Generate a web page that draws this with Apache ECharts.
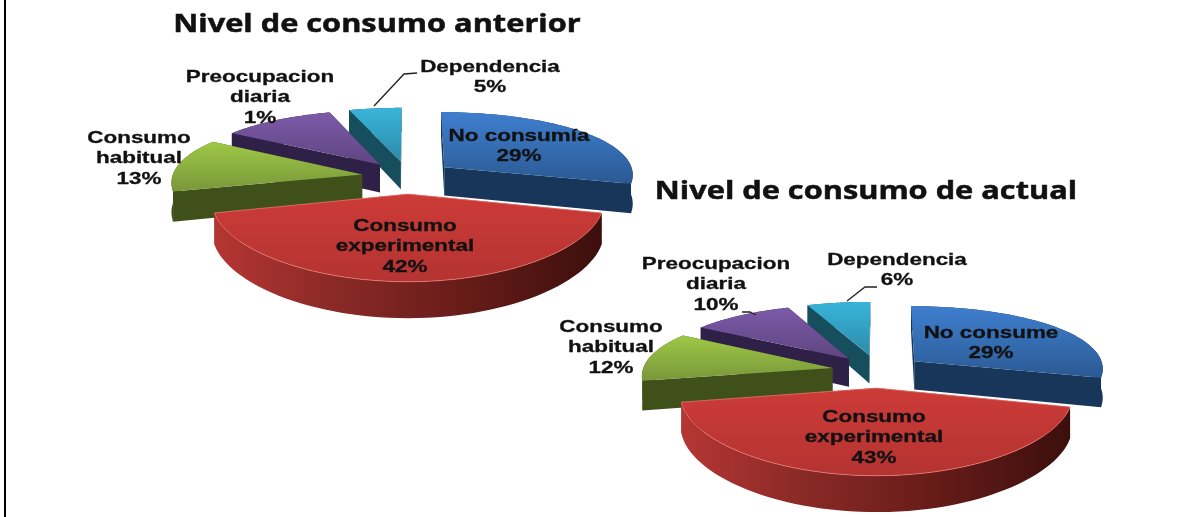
<!DOCTYPE html>
<html><head><meta charset="utf-8">
<style>html,body{margin:0;padding:0;background:#fff}#c{width:1183px;height:517px}#c canvas{filter:blur(0.5px)}</style>
<script src="https://cdn.jsdelivr.net/npm/echarts@6/dist/echarts.min.js"></script>
</head><body><div id="c"></div>
<script>
// ---- data ----
const prevCategories = ['No consumía', 'Consumo\nexperimental', 'Consumo\nhabitual', 'Preocupacion\ndiaria', 'Dependencia'];
const currCategories = ['No consume', 'Consumo\nexperimental', 'Consumo\nhabitual', 'Preocupacion\ndiaria', 'Dependencia'];
// slice sizes as drawn
const prevValues = [29, 42, 13, 11, 5];
const currValues = [29, 43, 12, 10, 6];
// percentages as printed on the labels
const prevPrinted = [29, 42, 13, 1, 5];
const currPrinted = [29, 43, 12, 10, 6];
const prevTitle = 'Nivel de consumo anterior';
const currTitle = 'Nivel de consumo de actual';

// ---- look ----
const G = echarts.graphic.LinearGradient;
const v = (a, b) => new G(0, 0, 0, 1, [{offset: 0, color: a}, {offset: 1, color: b}]);
const sliceStyles = [
  {top: v('#3f7fcf', '#2b5a94'), side: '#17365a'},
  {top: v('#cc3b38', '#b43331'), side: '#5a1a17'},
  {top: v('#9fc846', '#78973a'), side: '#40501a'},
  {top: v('#7c5aa8', '#5f4581'), side: '#2f2048'},
  {top: v('#38b5da', '#2d8aa9'), side: '#164e5e'}
];
const redWall = new G(0, 0, 1, 0, [
  {offset: 0, color: '#b53633'}, {offset: 0.3, color: '#8b2a27'},
  {offset: 0.62, color: '#6a1d1a'}, {offset: 1, color: '#3c0f0c'}]);
const paintRank = [3, 4, 2, 1, 0];
const R = 190, RY = 67, EXPLODE = 0.245, DEPTH = 29, KX = 0.1, KY = 0.1635;
const prevLayout = {cx: 408, cy: 177,
  labels: [[519, 136], [405, 226], [139, 138], [260, 77], [490, 67]],
  leaders: [[[374, 106], [404, 74], [417, 73]]]};
const currLayout = {cx: 878, cy: 371,
  labels: [[991, 333], [874, 417], [611, 327], [716, 264], [897, 260]],
  leaders: [[[847, 301], [865, 287], [877, 287]], [[742, 312], [750, 312], [756, 315]]]};
const LINE = 20.5, FONT = 17, STRETCH = 1.32;

function project(L, thetaDeg, rad, midDeg, down) {
  const t = thetaDeg * Math.PI / 180, m = midDeg * Math.PI / 180;
  const U = rad * Math.sin(t) + EXPLODE * Math.sin(m);
  const W = -rad * Math.cos(t) - EXPLODE * Math.cos(m);
  return [L.cx + R * U / (1 - KX * W), L.cy + (RY * W + DEPTH * down) / (1 - KY * W)];
}

function makeRender(values, categories, printed, L) {
  const total = values.reduce((a, b) => a + b, 0);
  return function (params, api) {
    const i = params.dataIndex, val = api.value(0);
    let before = 0;
    for (let k = 0; k < i; k++) before += values[k];
    const a0 = before / total * 360, a1 = (before + val) / total * 360, mid = (a0 + a1) / 2;
    const arc = (down) => {
      const p = [];
      for (let s = 0; s <= 60; s++) p.push(project(L, a0 + (a1 - a0) * s / 60, 1, mid, down));
      return p;
    };
    const top = arc(0), low = arc(1);
    const A = project(L, 0, 0, mid, 0), B = project(L, 0, 0, mid, 1);
    const st = sliceStyles[i], z = paintRank[i] * 10;
    const poly = (pts, fill, dz, extra) => ({type: 'polygon', z2: z + dz, silent: true,
      shape: {points: pts}, style: Object.assign({fill: fill}, extra || {})});
    const wallFill = i === 1 ? redWall : st.side;
    const children = [
      poly(top.concat(low.slice().reverse()), wallFill, 1),
      poly([A, top[0], low[0], B], st.side, 0),
      poly([A, top[60], low[60], B], st.side, 0),
      poly([A].concat(top), st.top, 2, i === 1 ? {stroke: 'rgba(240,130,120,0.7)', lineWidth: 1} : {})
    ];
    const lines = [...categories[i].split('\n'), printed[i] + '%'];
    lines.forEach((line, n) => children.push({type: 'text', z2: 100, silent: true,
      x: L.labels[i][0], y: L.labels[i][1] + n * LINE, scaleX: STRETCH,
      style: {text: line, textAlign: 'center', textVerticalAlign: 'middle',
        font: 'bold ' + FONT + 'px "Liberation Sans", Arial, sans-serif', fill: '#111',
        stroke: '#111', lineWidth: 0.3}}));
    return {type: 'group', children};
  };
}

function pieSeries(values, categories, printed, L) {
  return {type: 'custom', coordinateSystem: 'none', animation: false, silent: true,
    data: values.map((x, i) => ({name: categories[i], value: [x]})),
    renderItem: makeRender(values, categories, printed, L)};
}
function titleText(text, x, y, sx) {
  return {type: 'text', x, y, scaleX: sx, z: 5, silent: true,
    style: {text, textAlign: 'center', textVerticalAlign: 'middle',
      font: 'bold 25px "Open Sans", sans-serif', fill: '#111', stroke: '#111', lineWidth: 0.5}};
}
function leader(pts) {
  return {type: 'polyline', z: 5, silent: true, shape: {points: pts},
    style: {stroke: '#222', lineWidth: 1.3, fill: null}};
}

const chart = echarts.init(document.getElementById('c'), null, {renderer: 'canvas'});
chart.setOption({
  animation: false,
  backgroundColor: '#ffffff',
  graphic: [
    {type: 'rect', z: 0, silent: true, shape: {x: 4, y: 0, width: 2, height: 517},
      style: {fill: '#000'}},
    titleText(prevTitle, 377, 25, 1.23),
    titleText(currTitle, 866, 192, 1.23),
    ...prevLayout.leaders.map(leader),
    ...currLayout.leaders.map(leader)
  ],
  series: [
    pieSeries(prevValues, prevCategories, prevPrinted, prevLayout),
    pieSeries(currValues, currCategories, currPrinted, currLayout)
  ]
});
</script></body></html>
